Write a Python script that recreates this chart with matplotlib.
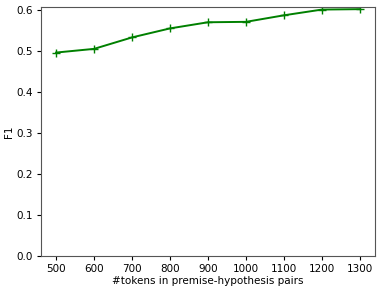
import matplotlib.pyplot as plt

tokens = [500, 600, 700, 800, 900, 1000, 1100, 1200, 1300]
f1 = [0.497, 0.506, 0.534, 0.556, 0.571, 0.572, 0.588, 0.602, 0.603]

plt.rcParams['font.size'] = 7.5
fig = plt.figure(figsize=(3.82, 2.91), dpi=100)
ax = fig.add_axes([0.107, 0.120, 0.875, 0.856])
ax.plot(tokens, f1, color='green', marker='+', linewidth=1.4)
ax.set_ylim(bottom=0)
ax.set_xticks(tokens)
ax.tick_params(pad=2.5, length=3)
ax.set_xlabel('#tokens in premise-hypothesis pairs', labelpad=2)
ax.set_ylabel('F1', labelpad=2)
for s in ax.spines.values():
    s.set_color('#555555')
fig.savefig('out.png', dpi=100)
